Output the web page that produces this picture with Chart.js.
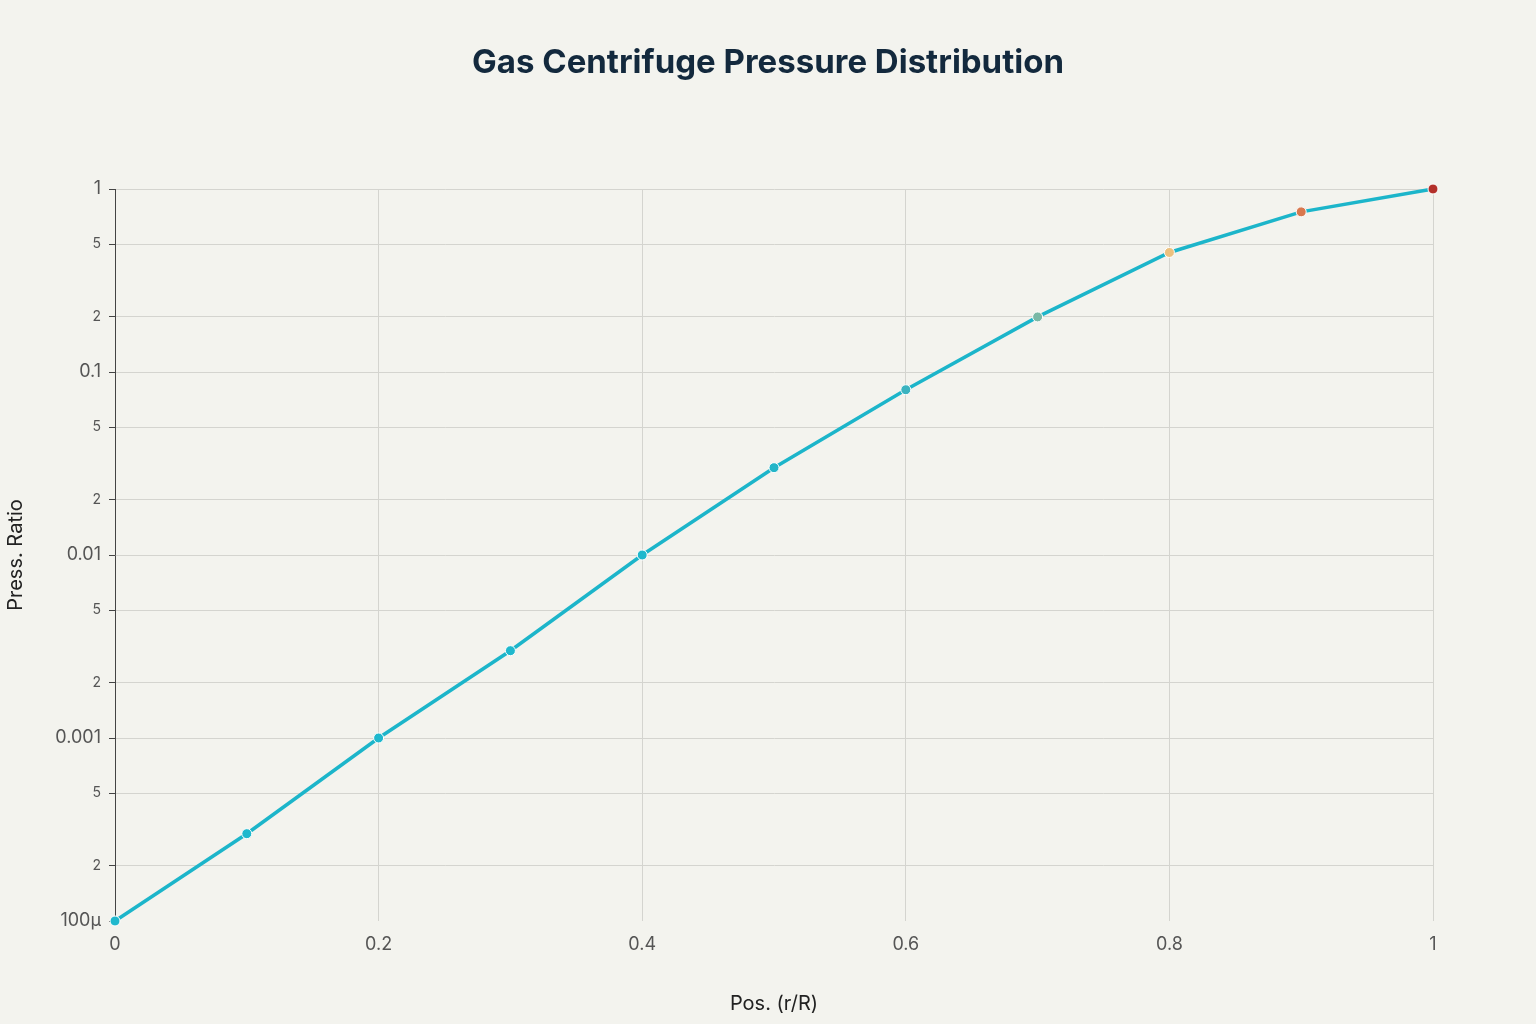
<!DOCTYPE html>
<html>
<head>
<meta charset="utf-8">
<script src="https://cdn.jsdelivr.net/npm/chart.js@4/dist/chart.umd.min.js"></script>
<style>
  body { margin: 0; background: #f3f3ee; }
  #wrap { width: 1536px; height: 1024px; }
</style>
</head>
<body>
<div id="wrap"><canvas id="c"></canvas></div>
<script>
const positions = [0, 0.1, 0.2, 0.3, 0.4, 0.5, 0.6, 0.7, 0.8, 0.9, 1.0];
const pressRatio = [0.0001, 0.0003, 0.001, 0.003, 0.01, 0.03, 0.08, 0.2, 0.45, 0.75, 1.0];
const pointColors = ['#1fb8cd', '#1fb8cd', '#1fb8cd', '#1fb8cd', '#1fb8cd', '#23b5c8', '#3ab3c0', '#7ab8a6', '#ecc17f', '#d8784e', '#b3302a'];
const yTicks = [1e-4, 2e-4, 5e-4, 1e-3, 2e-3, 5e-3, 1e-2, 2e-2, 5e-2, 0.1, 0.2, 0.5, 1];
const majorLabels = { '0.0001': '100µ', '0.001': '0.001', '0.01': '0.01', '0.1': '0.1', '1': '1' };
const chartTitle = 'Gas Centrifuge Pressure Distribution';

// background + title centred on the whole canvas
const bgPlugin = {
    id: 'bg',
    beforeDraw(chart) {
        const ctx = chart.ctx;
        ctx.save();
        ctx.fillStyle = '#f3f3ee';
        ctx.fillRect(0, 0, chart.width, chart.height);
        ctx.fillStyle = '#13293d';
        ctx.font = 'bold 33px Inter, sans-serif';
        ctx.textAlign = 'center';
        ctx.textBaseline = 'middle';
        ctx.fillText(chartTitle, chart.width / 2, 63);
        ctx.restore();
    }
};

const isMajor = v => majorLabels[String(v)] !== undefined;

new Chart(document.getElementById('c'), {
    type: 'line',
    data: {
        datasets: [{
            data: positions.map((x, i) => ({ x, y: pressRatio[i] })),
            borderColor: '#1cb5ca',
            borderWidth: 3.5,
            pointBackgroundColor: pointColors,
            pointBorderColor: '#ffffff',
            pointBorderWidth: 1,
            pointRadius: 5,
            tension: 0,
            clip: false
        }]
    },
    plugins: [bgPlugin],
    options: {
        responsive: true,
        maintainAspectRatio: false,
        animation: false,
        layout: { padding: { top: 189, right: 103, bottom: 8, left: 4 } },
        plugins: {
            legend: { display: false },
            tooltip: { enabled: false },
            title: { display: false }
        },
        scales: {
            x: {
                type: 'linear',
                min: 0,
                max: 1,
                ticks: {
                    stepSize: 0.2,
                    color: '#555',
                    font: { family: 'Inter, sans-serif', size: 18 },
                    padding: 13,
                    callback: v => (Math.round(v * 10) / 10).toString()
                },
                grid: {
                    color: ctx => ctx.tick && ctx.tick.value === 0 ? 'rgba(0,0,0,0)' : '#d4d4cf',
                    drawTicks: false
                },
                border: { display: false },
                title: {
                    display: true,
                    text: 'Pos. (r/R)',
                    color: '#222',
                    font: { family: 'Inter, sans-serif', size: 20 },
                    padding: { top: 26, bottom: 0 }
                },
                afterFit: s => { s.height = 95; }
            },
            y: {
                type: 'logarithmic',
                min: 1e-4,
                max: 1,
                afterBuildTicks: s => { s.ticks = yTicks.map(v => ({ value: v, major: isMajor(v) })); },
                ticks: {
                    autoSkip: false,
                    color: '#555',
                    padding: 8,
                    font: ctx => ({ family: 'Inter, sans-serif', size: isMajor(ctx.tick.value) ? 18 : 14 }),
                    callback: v => majorLabels[String(v)] || String(Math.round(v / Math.pow(10, Math.floor(Math.log10(v) + 1e-9))))
                },
                grid: {
                    color: ctx => ctx.tick && ctx.tick.value === 1e-4 ? 'rgba(0,0,0,0)' : '#d4d4cf',
                    tickLength: 6,
                    tickColor: '#444'
                },
                border: { display: true, color: '#444', width: 1 },
                title: {
                    display: true,
                    text: 'Press. Ratio',
                    color: '#222',
                    font: { family: 'Inter, sans-serif', size: 20 },
                    padding: { top: 0, bottom: 10 }
                },
                afterFit: s => { s.width = 111; }
            }
        }
    }
});
</script>
</body>
</html>
